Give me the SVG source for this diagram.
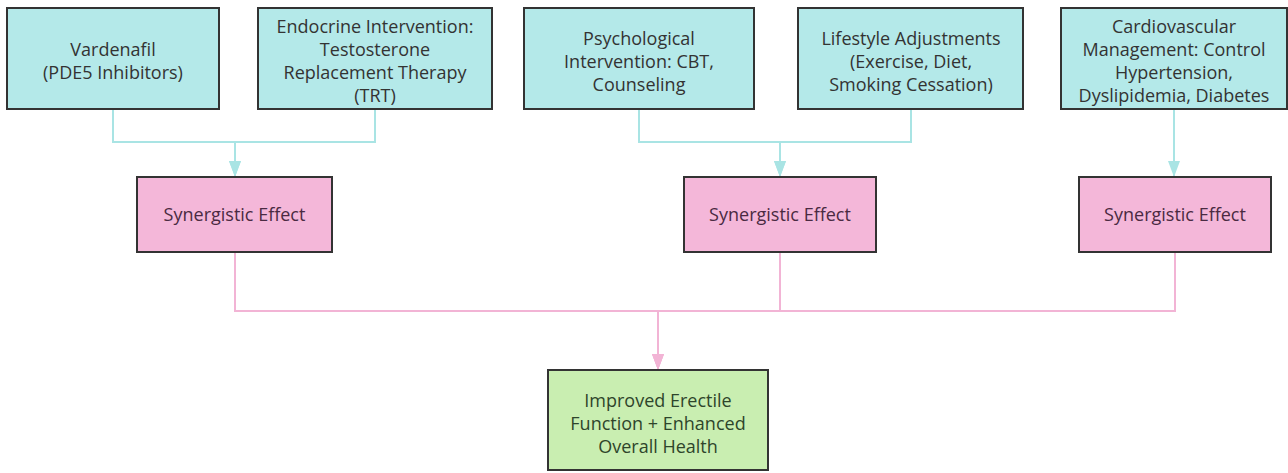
<svg xmlns="http://www.w3.org/2000/svg" width="1288" height="473" viewBox="0 0 1288 473">
<style>
.box{stroke:#333;stroke-width:2}
.t{fill:#b4e9e9}
.p{fill:#f4b7d9}
.g{fill:#c9eeb1}
text{font-family:"Open Sans","Noto Sans",sans-serif;font-size:18px;text-anchor:middle}
.tt{fill:#333}
.pt{fill:#4a2a42}
.gt{fill:#2e452b}
.c{fill:none;stroke:#a9e4e4;stroke-width:2}
.pk{fill:none;stroke:#f2b4d5;stroke-width:2}
</style>
<defs>
<marker id="ac" markerUnits="userSpaceOnUse" markerWidth="12" markerHeight="16" refX="6" refY="16" orient="0" viewBox="0 0 12 16"><path d="M0,0 L12,0 L6,16 z" fill="#a9e4e4"/></marker>
<marker id="ap" markerUnits="userSpaceOnUse" markerWidth="12" markerHeight="16" refX="6" refY="16" orient="0" viewBox="0 0 12 16"><path d="M0,0 L12,0 L6,16 z" fill="#f2b4d5"/></marker>
</defs>
<g id="connectors">
<path class="c" d="M113,109 V142 H235 V177" marker-end="url(#ac)"/>
<path class="c" d="M375,109 V142 H235 V177" marker-end="url(#ac)"/>
<path class="c" d="M639,109 V142 H780 V177" marker-end="url(#ac)"/>
<path class="c" d="M911,109 V142 H780 V177" marker-end="url(#ac)"/>
<path class="c" d="M1174,109 V177" marker-end="url(#ac)"/>
<path class="pk" d="M235,252 V311 H658 V370" marker-end="url(#ap)"/>
<path class="pk" d="M780,252 V311 H658 V370" marker-end="url(#ap)"/>
<path class="pk" d="M1175,252 V311 H658 V370" marker-end="url(#ap)"/>
</g>
<g id="vardenafil">
<rect class="box t" x="7" y="8" width="212" height="101"/>
<text class="tt" x="113" y="56">Vardenafil</text>
<text class="tt" x="113" y="79">(PDE5 Inhibitors)</text>
</g>
<g id="endocrine">
<rect class="box t" x="258" y="8" width="234" height="101"/>
<text class="tt" x="375" y="33">Endocrine Intervention:</text>
<text class="tt" x="375" y="56">Testosterone</text>
<text class="tt" x="375" y="79">Replacement Therapy</text>
<text class="tt" x="375" y="102">(TRT)</text>
</g>
<g id="psychological">
<rect class="box t" x="524" y="8" width="230" height="101"/>
<text class="tt" x="639" y="44.5">Psychological</text>
<text class="tt" x="639" y="67.5">Intervention: CBT,</text>
<text class="tt" x="639" y="90.5">Counseling</text>
</g>
<g id="lifestyle">
<rect class="box t" x="798" y="8" width="225" height="101"/>
<text class="tt" x="911" y="44.5">Lifestyle Adjustments</text>
<text class="tt" x="911" y="67.5">(Exercise, Diet,</text>
<text class="tt" x="911" y="90.5">Smoking Cessation)</text>
</g>
<g id="cardiovascular">
<rect class="box t" x="1061" y="8" width="226" height="101"/>
<text class="tt" x="1174" y="33">Cardiovascular</text>
<text class="tt" x="1174" y="56">Management: Control</text>
<text class="tt" x="1174" y="79">Hypertension,</text>
<text class="tt" x="1174" y="102">Dyslipidemia, Diabetes</text>
</g>
<g id="synergy1">
<rect class="box p" x="137" y="177" width="195" height="75"/>
<text class="pt" x="234.5" y="221">Synergistic Effect</text>
</g>
<g id="synergy2">
<rect class="box p" x="684" y="177" width="192" height="75"/>
<text class="pt" x="780" y="221">Synergistic Effect</text>
</g>
<g id="synergy3">
<rect class="box p" x="1079" y="177" width="192" height="75"/>
<text class="pt" x="1175" y="221">Synergistic Effect</text>
</g>
<g id="outcome">
<rect class="box g" x="548" y="370" width="220" height="100"/>
<text class="gt" x="658" y="407">Improved Erectile</text>
<text class="gt" x="658" y="430">Function + Enhanced</text>
<text class="gt" x="658" y="453">Overall Health</text>
</g>
</svg>
